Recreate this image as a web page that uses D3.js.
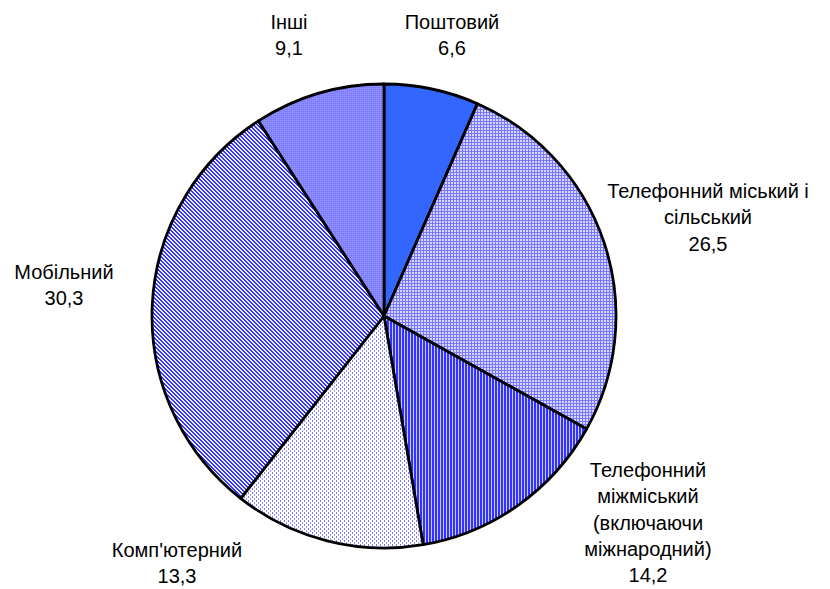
<!DOCTYPE html>
<html>
<head>
<meta charset="utf-8">
<script src="https://cdn.jsdelivr.net/npm/d3@7"></script>
<style>
  body { margin: 0; background: #fff; }
  svg text { font-family: "Liberation Sans", Arial, sans-serif; font-size: 20px; fill: #000; }
</style>
</head>
<body>
<div class="chart"></div>
<script>
// data
const categories = ['Поштовий', 'Телефонний міський і сільський', 'Телефонний міжміський (включаючи міжнародний)', "Комп'ютерний", 'Мобільний', 'Інші'];
const values = [6.6, 26.5, 14.2, 13.3, 30.3, 9.1];
const valueLabels = ['6,6', '26,5', '14,2', '13,3', '30,3', '9,1'];
const labelLines = [
    ['Поштовий'],
    ['Телефонний міський і', 'сільський'],
    ['Телефонний', 'міжміський', '(включаючи', 'міжнародний)'],
    ["Комп'ютерний"],
    ['Мобільний'],
    ['Інші']
];
const labelPos = [[452, 22], [708, 191], [648, 470], [177, 550], [64, 272], [289, 22]];

const width = 830, height = 589;
const cx = 384, cy = 316, radius = 232;

const svg = d3.select('.chart').append('svg')
    .attr('width', width)
    .attr('height', height);

const defs = svg.append('defs');

// fill patterns, one per slice (Excel style)
function makePattern(id, size, bg, pixels) {
    const p = defs.append('pattern')
        .attr('id', id)
        .attr('patternUnits', 'userSpaceOnUse')
        .attr('width', size[0])
        .attr('height', size[1]);
    p.append('rect').attr('width', size[0]).attr('height', size[1]).attr('fill', bg)
        .attr('shape-rendering', 'crispEdges');
    pixels.forEach(function(d) {
        p.append('rect')
            .attr('x', d[0]).attr('y', d[1])
            .attr('width', d[2]).attr('height', d[3])
            .attr('fill', d[4])
            .attr('shape-rendering', 'crispEdges');
    });
    return 'url(#' + id + ')';
}

const fills = [
    '#3366ff',
    makePattern('p1', [3, 3], '#d6d6ff', [[0, 0, 3, 1, '#7777ff'], [0, 0, 1, 3, '#7777ff']]),
    makePattern('p2', [3, 1], '#ccccff', [[0, 0, 2, 1, '#3333ff']]),
    makePattern('p3', [4, 4], '#ffffff', [[0, 0, 1, 2, '#7777ff'], [2, 2, 1, 2, '#9999ff']]),
    makePattern('p4', [4, 4], '#eeeeff', [
        [0, 0, 2, 1, '#3333ff'], [1, 1, 2, 1, '#3333ff'], [2, 2, 2, 1, '#3333ff'],
        [3, 3, 1, 1, '#3333ff'], [0, 3, 1, 1, '#3333ff']]),
    makePattern('p5', [2, 2], '#8080ff', [[0, 0, 1, 1, '#9999ff']])
];

const pie = d3.pie().sort(null).value(function(d) { return d; });
const arc = d3.arc().innerRadius(0).outerRadius(radius);

const g = svg.append('g').attr('transform', 'translate(' + cx + ',' + cy + ')');

g.selectAll('path')
    .data(pie(values))
    .enter()
    .append('path')
    .attr('d', arc)
    .attr('fill', function(d, i) { return fills[i]; })
    .attr('stroke', '#000')
    .attr('stroke-width', 2.8)
    .attr('stroke-linejoin', 'round');

// labels: category lines then value
const lab = svg.append('g');
categories.forEach(function(c, i) {
    const lines = labelLines[i].concat([valueLabels[i]]);
    const t = lab.append('text')
        .attr('text-anchor', 'middle')
        .attr('x', labelPos[i][0])
        .attr('y', labelPos[i][1] + 7);
    lines.forEach(function(l, j) {
        t.append('tspan')
            .attr('x', labelPos[i][0])
            .attr('dy', j === 0 ? 0 : 26.3)
            .text(l);
    });
});
</script>
</body>
</html>
